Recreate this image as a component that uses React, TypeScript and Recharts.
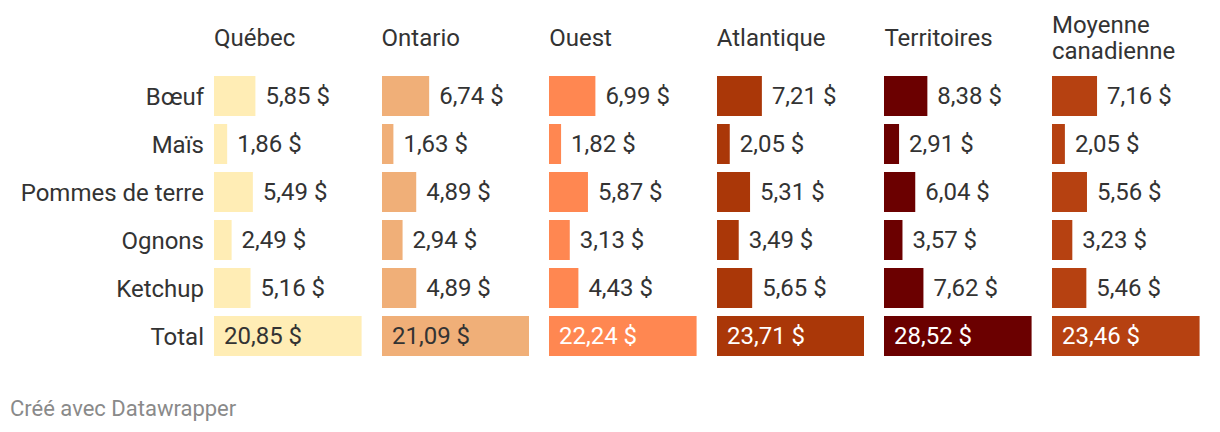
import React from "react";
import { BarChart, Bar, XAxis, YAxis, LabelList, Cell } from "recharts";

// rows and columns of the table
const rows = ["Bœuf", "Maïs", "Pommes de terre", "Ognons", "Ketchup", "Total"];
const regions = ["Québec", "Ontario", "Ouest", "Atlantique", "Territoires", "Moyenne canadienne"];

const quebec = [5.85, 1.86, 5.49, 2.49, 5.16, 20.85];
const ontario = [6.74, 1.63, 4.89, 2.94, 4.89, 21.09];
const ouest = [6.99, 1.82, 5.87, 3.13, 4.43, 22.24];
const atlantique = [7.21, 2.05, 5.31, 3.49, 5.65, 23.71];
const territoires = [8.38, 2.91, 6.04, 3.57, 7.62, 28.52];
const moyenne = [7.16, 2.05, 5.56, 3.23, 5.46, 23.46];

const series = [quebec, ontario, ouest, atlantique, territoires, moyenne];
const colors = ["#ffedb5", "#f0af78", "#ff8751", "#aa3708", "#6b0000", "#b64111"];
const totalTextColors = ["#333333", "#333333", "#ffffff", "#ffffff", "#ffffff", "#ffffff"];

const fmt = (v: number) => v.toFixed(2).replace(".", ",") + " $";

const FONT = "Roboto, sans-serif";
const FS = 24;
const ROW_H = 48;
const TOP = 72;
const FIRST_X = 214;
const COL_STEP = 167.6;
const BAR_W = 147.6;

const makeLabel = (ci: number) => (props: any) => {
  const { x, y, width, height, value, index } = props;
  const isTotal = rows[index] === "Total";
  return (
    <text
      x={isTotal ? x + 10 : x + width + 10}
      y={y + height / 2}
      dominantBaseline="central"
      fill={isTotal ? totalTextColors[ci] : "#333333"}
      fontSize={FS}
      fontFamily={FONT}
    >
      {fmt(value)}
    </text>
  );
};

const Column = ({ ci }: { ci: number }) => {
  const data = rows.map((r, i) => ({ name: r, value: series[ci][i] }));
  const first = ci === 0;
  const left = first ? 0 : FIRST_X + ci * COL_STEP;
  const axisW = first ? FIRST_X : 0;
  return (
    <div style={{ position: "absolute", left, top: TOP }}>
      <BarChart
        width={axisW + BAR_W}
        height={rows.length * ROW_H}
        data={data}
        layout="vertical"
        margin={{ top: 0, right: 0, bottom: 0, left: 0 }}
        barCategoryGap={4}
      >
        <XAxis type="number" hide domain={[0, series[ci][5]]} />
        <YAxis
          type="category"
          dataKey="name"
          hide={!first}
          width={axisW}
          axisLine={false}
          tickLine={false}
          tickSize={0}
          tickMargin={10}
          tick={{ fill: "#333333", fontSize: FS, fontFamily: FONT }}
        />
        <Bar dataKey="value" isAnimationActive={false} barSize={40}>
          {data.map((d, i) => (
            <Cell key={i} fill={colors[ci]} />
          ))}
          <LabelList dataKey="value" content={makeLabel(ci)} />
        </Bar>
      </BarChart>
    </div>
  );
};

export default function App() {
  return (
    <div
      style={{
        position: "absolute",
        left: 0,
        top: 0,
        width: 1220,
        height: 432,
        background: "#ffffff",
        fontFamily: FONT,
        color: "#333333",
        overflow: "hidden",
      }}
    >
      {regions.map((r, i) => (
        <div
          key={r}
          style={{
            position: "absolute",
            left: FIRST_X + i * COL_STEP,
            top: 10,
            height: 56,
            width: BAR_W + 20,
            display: "flex",
            alignItems: "center",
            fontSize: FS,
            lineHeight: "26px",
          }}
        >
          {r === "Moyenne canadienne" ? (
            <span>
              Moyenne
              <br />
              canadienne
            </span>
          ) : (
            <span>{r}</span>
          )}
        </div>
      ))}
      {regions.map((r, i) => (
        <Column key={r} ci={i} />
      ))}
      <div
        style={{
          position: "absolute",
          left: 10,
          top: 396,
          fontSize: 22,
          color: "#8a8a8a",
          lineHeight: "26px",
        }}
      >
        Créé avec Datawrapper
      </div>
    </div>
  );
}
